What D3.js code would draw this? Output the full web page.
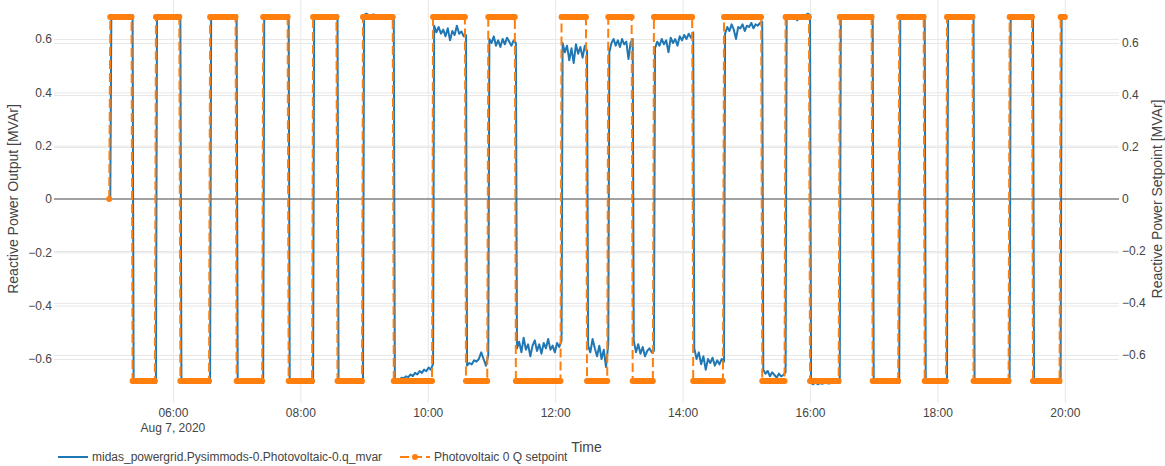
<!DOCTYPE html>
<html>
<head>
<meta charset="utf-8">
<script src="https://cdn.jsdelivr.net/npm/d3@7"></script>
<style>
  html, body { margin: 0; padding: 0; background: #fff; }
  svg { display: block; font-family: "Liberation Sans", Arial, sans-serif; }
</style>
</head>
<body>
<div id="chart"></div>
<script>
// --- data ---
// setpoint switches (time, value); the setpoint holds its value until the next switch
const switchTimes = ["05:00","05:01","05:22","05:44","06:07","06:35","07:00","07:25","07:49",
  "08:12","08:35","08:59","09:28","10:05","10:36","10:57","11:23","12:06","12:30","12:50",
  "13:13","13:33","14:10","14:39","15:15","15:37","16:00","16:28","16:59","17:24","17:48",
  "18:09","18:34","19:08","19:30","19:56"];
const setpointValues = [0, 0.7, -0.7, 0.7, -0.7, 0.7, -0.7, 0.7, -0.7,
  0.7, -0.7, 0.7, -0.7, 0.7, -0.7, 0.7, -0.7, 0.7, -0.7, 0.7,
  -0.7, 0.7, -0.7, 0.7, -0.7, 0.7, -0.7, 0.7, -0.7, 0.7, -0.7,
  0.7, -0.7, 0.7, -0.7, 0.7];
const endTime = "20:00";
const sampleMinutes = 1;

// measured output: saturated level when the PV follows the setpoint
const outputLimits = [-0.69, 0.69];

// segments where the output is not saturated (values read every ~2 min)
const noisyStarts = ["08:59","09:28","10:05","10:36","10:57","11:23","12:06","12:30",
  "12:50","13:13","13:33","14:10","14:39","15:15","15:37","16:00"];
const noisyValues = [
  [0.69,0.695,0.69,0.688,0.692,0.69,0.685,0.69,0.683,0.686,0.68,0.684,0.678,0.672],
  [-0.68,-0.675,-0.678,-0.67,-0.672,-0.665,-0.668,-0.658,-0.664,-0.652,-0.658,-0.645,-0.652,-0.64,-0.646,-0.632,-0.64,-0.618],
  [0.65,0.625,0.645,0.62,0.635,0.61,0.64,0.595,0.63,0.615,0.65,0.62,0.628,0.61,0.615],
  [-0.625,-0.615,-0.62,-0.605,-0.61,-0.6,-0.575,-0.6,-0.625,-0.585],
  [0.6,0.585,0.61,0.575,0.595,0.57,0.6,0.58,0.605,0.59,0.575,0.595,0.585],
  [-0.56,-0.535,-0.575,-0.52,-0.565,-0.545,-0.59,-0.55,-0.53,-0.57,-0.545,-0.58,-0.54,-0.56,-0.525,-0.565,-0.55,-0.575,-0.54,-0.555,-0.53],
  [0.585,0.55,0.575,0.52,0.565,0.51,0.58,0.545,0.57,0.53,0.575,0.555],
  [-0.55,-0.575,-0.525,-0.56,-0.59,-0.55,-0.6,-0.565,-0.63,-0.545],
  [0.55,0.585,0.6,0.575,0.595,0.57,0.6,0.58,0.59,0.525,0.585,0.6],
  [-0.53,-0.575,-0.545,-0.58,-0.555,-0.59,-0.57,-0.56,-0.575,-0.57],
  [0.565,0.59,0.575,0.6,0.58,0.595,0.55,0.605,0.585,0.6,0.575,0.61,0.595,0.615,0.6,0.62,0.605,0.625],
  [-0.56,-0.6,-0.575,-0.62,-0.59,-0.64,-0.6,-0.615,-0.595,-0.625,-0.605,-0.62,-0.6,-0.61],
  [0.62,0.645,0.63,0.655,0.635,0.6,0.645,0.64,0.655,0.63,0.65,0.645,0.66,0.64,0.655,0.65,0.66,0.665],
  [-0.64,-0.655,-0.645,-0.665,-0.65,-0.66,-0.67,-0.655,-0.665,-0.66,-0.65],
  [0.69,0.685,0.675,0.69,0.68,0.67,0.685,0.69,0.68,0.69,0.695,0.69],
  [-0.69,-0.695,-0.685,-0.695,-0.69,-0.693,-0.69,-0.69,-0.692,-0.69,-0.69,-0.69,-0.69,-0.69]
];

const yTicks = [-0.6, -0.4, -0.2, 0, 0.2, 0.4, 0.6];
const xTickTimes = ["06:00","08:00","10:00","12:00","14:00","16:00","18:00","20:00"];
const dateLabel = "Aug 7, 2020";
const seriesNames = ["midas_powergrid.Pysimmods-0.Photovoltaic-0.q_mvar", "Photovoltaic 0 Q setpoint"];

// --- layout ---
const width = 1165, height = 466;
const plot = { left: 54, right: 1119, top: -5, bottom: 403 };
const BLUE = "#1f77b4", ORANGE = "#ff7f0e", TEXT = "#444";

const at = s => { const [h, m] = s.split(":").map(Number); return new Date(2020, 7, 7, h, m); };
const addMin = (d, m) => new Date(d.getTime() + m * 60000);

const svg = d3.select("#chart").append("svg")
  .attr("width", width).attr("height", height)
  .attr("viewBox", `0 0 ${width} ${height}`);

const x = d3.scaleTime().domain([at("04:08"), at("20:51")]).range([plot.left, plot.right]);
const yL = d3.scaleLinear().domain([-0.765, 0.765]).range([plot.bottom, plot.top]);
const yR = d3.scaleLinear().domain([-0.785, 0.785]).range([plot.bottom, plot.top]);

// setpoint samples
const setpoint = [];
const starts = switchTimes.map(at);
const tEnd = at(endTime);
for (let i = 0; i < starts.length; i++) {
  const segEnd = i + 1 < starts.length ? starts[i + 1] : addMin(tEnd, 1);
  for (let t = starts[i]; t < segEnd && t <= tEnd; t = addMin(t, sampleMinutes)) {
    setpoint.push({ t, v: setpointValues[i] });
  }
}

// output line: follows the setpoint one minute later
const output = [{ t: starts[0], v: 0 }];
for (let i = 0; i < starts.length; i++) {
  const s = addMin(starts[i], 1);
  const e = i + 1 < starts.length ? starts[i + 1] : tEnd;
  const k = noisyStarts.indexOf(switchTimes[i]);
  if (k >= 0) {
    const vals = noisyValues[k];
    const span = (e - s);
    vals.forEach((v, j) => output.push({ t: new Date(s.getTime() + span * j / (vals.length - 1)), v }));
  } else {
    const sv = setpointValues[i];
    const v = sv > 0 ? outputLimits[1] : sv < 0 ? outputLimits[0] : 0;
    output.push({ t: s, v }, { t: e, v });
  }
}

svg.append("defs").append("clipPath").attr("id", "clip")
  .append("rect").attr("x", plot.left).attr("y", plot.top)
  .attr("width", plot.right - plot.left).attr("height", plot.bottom - plot.top);

// --- grid ---
const grid = svg.append("g");
grid.append("g").attr("transform", `translate(0,${plot.bottom})`)
  .call(d3.axisBottom(x).tickValues(xTickTimes.map(at)).tickSize(-(plot.bottom - plot.top)).tickFormat(""))
  .call(g => g.select(".domain").remove())
  .call(g => g.selectAll("line").attr("stroke", "#e8e8e8"));
grid.append("g").attr("transform", `translate(${plot.left},0)`)
  .call(d3.axisLeft(yL).tickValues(yTicks.filter(d => d !== 0)).tickSize(-(plot.right - plot.left)).tickFormat(""))
  .call(g => g.select(".domain").remove())
  .call(g => g.selectAll("line").attr("stroke", "#e8e8e8"));
grid.append("g").attr("transform", `translate(${plot.right},0)`)
  .call(d3.axisRight(yR).tickValues(yTicks.filter(d => d !== 0)).tickSize(-(plot.right - plot.left)).tickFormat(""))
  .call(g => g.select(".domain").remove())
  .call(g => g.selectAll("line").attr("stroke", "#e8e8e8"));

// zero line
svg.append("line")
  .attr("x1", plot.left).attr("x2", plot.right)
  .attr("y1", yL(0)).attr("y2", yL(0))
  .attr("stroke", "#444").attr("stroke-width", 1);

// --- series ---
const data = svg.append("g").attr("clip-path", "url(#clip)");
data.append("path").datum(output)
  .attr("fill", "none").attr("stroke", BLUE).attr("stroke-width", 2).attr("stroke-linejoin", "round")
  .attr("d", d3.line().x(d => x(d.t)).y(d => yL(d.v)));
data.append("path").datum(setpoint)
  .attr("fill", "none").attr("stroke", ORANGE).attr("stroke-width", 2).attr("stroke-dasharray", "9,4")
  .attr("d", d3.line().x(d => x(d.t)).y(d => yR(d.v)));
data.append("g").selectAll("circle").data(setpoint).join("circle")
  .attr("cx", d => x(d.t)).attr("cy", d => yR(d.v)).attr("r", 3).attr("fill", ORANGE);

// --- axes ---
const styleAxis = g => {
  g.select(".domain").remove();
  g.selectAll("text").attr("fill", TEXT).attr("font-size", 12)
    .attr("font-family", "Liberation Sans, Arial, sans-serif");
};
svg.append("g").attr("transform", `translate(${plot.left},0)`)
  .call(d3.axisLeft(yL).tickValues(yTicks).tickSize(0).tickPadding(2).tickFormat(d3.format("~g")))
  .call(styleAxis);
svg.append("g").attr("transform", `translate(${plot.right},0)`)
  .call(d3.axisRight(yR).tickValues(yTicks).tickSize(0).tickPadding(3).tickFormat(d3.format("~g")))
  .call(styleAxis);
svg.append("g").attr("transform", `translate(0,${plot.bottom})`)
  .call(d3.axisBottom(x).tickValues(xTickTimes.map(at)).tickSize(0).tickPadding(5).tickFormat(d3.timeFormat("%H:%M")))
  .call(styleAxis);

svg.append("text").attr("x", x(at(xTickTimes[0]))).attr("y", 432)
  .attr("text-anchor", "middle").attr("fill", TEXT).attr("font-size", 12).text(dateLabel);

svg.append("text").attr("x", (plot.left + plot.right) / 2).attr("y", 452)
  .attr("text-anchor", "middle").attr("fill", TEXT).attr("font-size", 14).text("Time");

svg.append("text").attr("transform", `translate(18,${(plot.top + plot.bottom) / 2}) rotate(-90)`)
  .attr("text-anchor", "middle").attr("fill", TEXT).attr("font-size", 14).text("Reactive Power Output [MVAr]");
svg.append("text").attr("transform", `translate(1162,${(plot.top + plot.bottom) / 2}) rotate(-90)`)
  .attr("text-anchor", "middle").attr("fill", TEXT).attr("font-size", 14).text("Reactive Power Setpoint [MVAr]");

// --- legend ---
const legend = svg.append("g").attr("transform", "translate(0,457)");
legend.append("line").attr("x1", 58).attr("x2", 88).attr("stroke", BLUE).attr("stroke-width", 2);
legend.append("text").attr("x", 92).attr("dy", "0.35em").attr("fill", TEXT).attr("font-size", 12).text(seriesNames[0]);
legend.append("line").attr("x1", 400).attr("x2", 430).attr("stroke", ORANGE).attr("stroke-width", 2).attr("stroke-dasharray", "9,4");
legend.append("circle").attr("cx", 415).attr("r", 3).attr("fill", ORANGE);
legend.append("text").attr("x", 434).attr("dy", "0.35em").attr("fill", TEXT).attr("font-size", 12).text(seriesNames[1]);
</script>
</body>
</html>
